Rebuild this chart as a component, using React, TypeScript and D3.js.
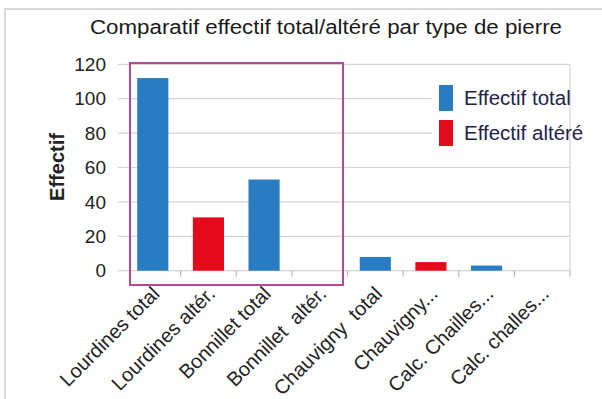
import React from "react";
import * as d3 from "d3";

const categories = [
  "Lourdines total",
  "Lourdines altér.",
  "Bonnillet total",
  "Bonnillet  altér.",
  "Chauvigny  total",
  "Chauvigny...",
  "Calc. Chailles...",
  "Calc. challes...",
];
const values = [112, 31, 53, 0, 8, 5, 3, 0];
const seriesOfBar = ["total", "altere", "total", "altere", "total", "altere", "total", "altere"];
const legendLabels = ["Effectif total", "Effectif altéré"];
const yTicks = [0, 20, 40, 60, 80, 100, 120];

const BLUE = "#2a7cc2";
const RED = "#e30a1c";
const FONT = "'Liberation Sans', Arial, sans-serif";

export default function App() {
  const W = 602, H = 399;
  const left = 125, right = 570, top = 64.3, bottom = 270.7;
  const x = d3.scaleBand<string>().domain(categories).range([left, right]).paddingInner(0.44).paddingOuter(0.22);
  const band = d3.scaleBand<string>().domain(categories).range([left, right]);
  const y = d3.scaleLinear().domain([0, 120]).range([bottom, top]);

  return (
    <div style={{ position: "absolute", left: 0, top: 0 }}>
      <svg width={W} height={H} style={{ display: "block" }} fontFamily={FONT}>
        <rect x={0} y={0} width={W} height={H} fill="#fff" />
        <rect x={5} y={9} width={W + 20} height={H + 20} fill="none" stroke="#d0d0d0" strokeWidth={1.5} />
        <text x={326} y={34} textAnchor="middle" fontSize={20} fill="#1a1a1a" textLength={472} lengthAdjust="spacingAndGlyphs">
          Comparatif effectif total/altéré par type de pierre
        </text>
        {yTicks.map((t) => (
          <g key={t}>
            <line x1={118} x2={right} y1={y(t)} y2={y(t)} stroke="#d4d4d4" strokeWidth={1.2} />
            <text x={106} y={y(t)} dy="0.35em" textAnchor="end" fontSize={19} fill="#222">
              {t}
            </text>
          </g>
        ))}
        <line x1={right} x2={right} y1={top} y2={bottom} stroke="#d4d4d4" strokeWidth={1.2} />
        {categories.map((c, i) => (
          <line key={"tk" + i} x1={band(c)! + band.bandwidth()} x2={band(c)! + band.bandwidth()} y1={bottom} y2={bottom + 6} stroke="#bbb" strokeWidth={1.2} />
        ))}
        <text transform={`translate(57,167) rotate(-90)`} textAnchor="middle" dy="0.35em" fontSize={20} fontWeight="bold" fill="#222">
          Effectif
        </text>
        {categories.map((c, i) => (
          <rect
            key={"b" + i}
            x={x(c)}
            y={y(values[i])}
            width={x.bandwidth()}
            height={bottom - y(values[i])}
            fill={seriesOfBar[i] === "total" ? BLUE : RED}
          />
        ))}
        {categories.map((c, i) => {
          const cx = band(c)! + band.bandwidth() / 2;
          return (
            <text
              key={"l" + i}
              transform={`translate(${cx + 8},${295}) rotate(-45)`}
              textAnchor="end"
              fontSize={20}
              fill="#222"
              style={{ whiteSpace: "pre" }}
            >
              {c}
            </text>
          );
        })}
        <rect x={130} y={63} width={213} height={222} fill="none" stroke="#b5489b" strokeWidth={2} />
        <rect x={432} y={78} width={136} height={74} fill="#fff" />
        {legendLabels.map((l, i) => (
          <g key={"lg" + i}>
            <rect x={439} y={85 + i * 35} width={14} height={26} fill={i === 0 ? BLUE : RED} />
            <text x={464} y={98 + i * 35} dy="0.35em" fontSize={20.5} fill="#22224a">
              {l}
            </text>
          </g>
        ))}
      </svg>
    </div>
  );
}
